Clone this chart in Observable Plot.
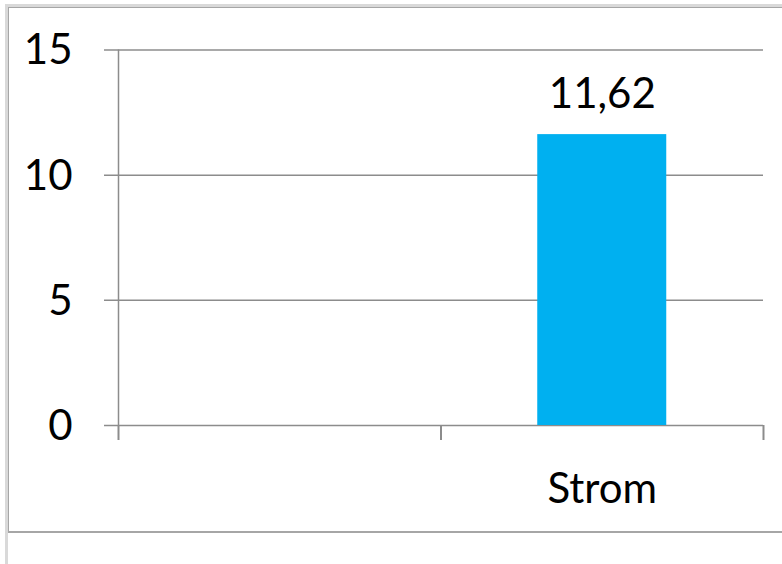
<!DOCTYPE html>
<html>
<head>
<meta charset="utf-8">
<script src="https://cdn.jsdelivr.net/npm/d3@7"></script>
<script src="https://cdn.jsdelivr.net/npm/@observablehq/plot@0.6"></script>
<style>
  html, body { margin: 0; padding: 0; background: #fff; }
  #wrap { position: relative; width: 782px; height: 564px; overflow: hidden; }
  #outer { position: absolute; left: 5px; top: 4px; width: 900px; height: 700px;
           border-left: 3px solid #d9d9d9; border-top: 3px solid #d9d9d9; }
  #frame { position: absolute; left: 8px; top: 7px; width: 900px; height: 523px;
           border-left: 1.5px solid #a6a6a6; border-top: 1.5px solid #a6a6a6; border-bottom: 2px solid #a6a6a6; }
  #chart { position: absolute; left: 0; top: 0; }
</style>
</head>
<body>
<div id="wrap">
  <div id="outer"></div>
  <div id="frame"></div>
  <div id="chart"></div>
</div>
<script>
// Categories along the x axis (the first slot has no label) and their values
const categories = ["", "Strom"];
const values = [null, 11.62];
const yTicks = [0, 5, 10, 15];

const data = categories.map((c, i) => ({index: i, category: c, value: values[i]}));
const bars = data.filter(d => d.value != null);
const fmt = v => v.toFixed(2).replace(".", ",");

const font = "Lato, 'Open Sans', sans-serif";
const axisColor = "#8c8c8c";
const n = categories.length;

const chart = Plot.plot({
  width: 782,
  height: 564,
  marginLeft: 118,
  marginRight: 19,
  marginTop: 49.5,
  marginBottom: 139,
  style: {fontFamily: font, fontSize: "42px", color: "#000", background: "transparent", overflow: "visible"},
  x: {type: "linear", domain: [0, n], axis: null},
  y: {domain: [0, 15], axis: null},
  marks: [
    // horizontal gridlines, extended left to form the value-axis ticks
    Plot.ruleY(yTicks, {x1: 0, x2: n, insetLeft: -14, stroke: axisColor, strokeWidth: 1.5, strokeOpacity: 1}),
    // vertical value axis
    Plot.ruleX([0], {y1: 0, y2: 15, stroke: axisColor, strokeWidth: 1.5}),
    // category boundary ticks below the baseline
    Plot.ruleX(d3.range(n + 1), {x: d => d, y1: 0, y2: 0, insetBottom: -15, stroke: axisColor, strokeWidth: 2}),
    // value axis labels
    Plot.text(yTicks, {x: 0, y: d => d, text: d => String(d), textAnchor: "end", dx: -46, dy: 1, fill: "#000", fontSize: 42}),
    // bars
    Plot.rectY(bars, {x1: d => d.index + 0.3, x2: d => d.index + 0.7, y: "value", fill: "#00b0f0"}),
    // value labels above the bars
    Plot.text(bars, {x: d => d.index + 0.5, y: "value", text: d => fmt(d.value), dy: -40, fill: "#000", fontSize: 42}),
    // category labels
    Plot.text(data, {x: d => d.index + 0.5, y: 0, text: "category", dy: 64, fill: "#000", fontSize: 42})
  ]
});
document.getElementById("chart").append(chart);
</script>
</body>
</html>
